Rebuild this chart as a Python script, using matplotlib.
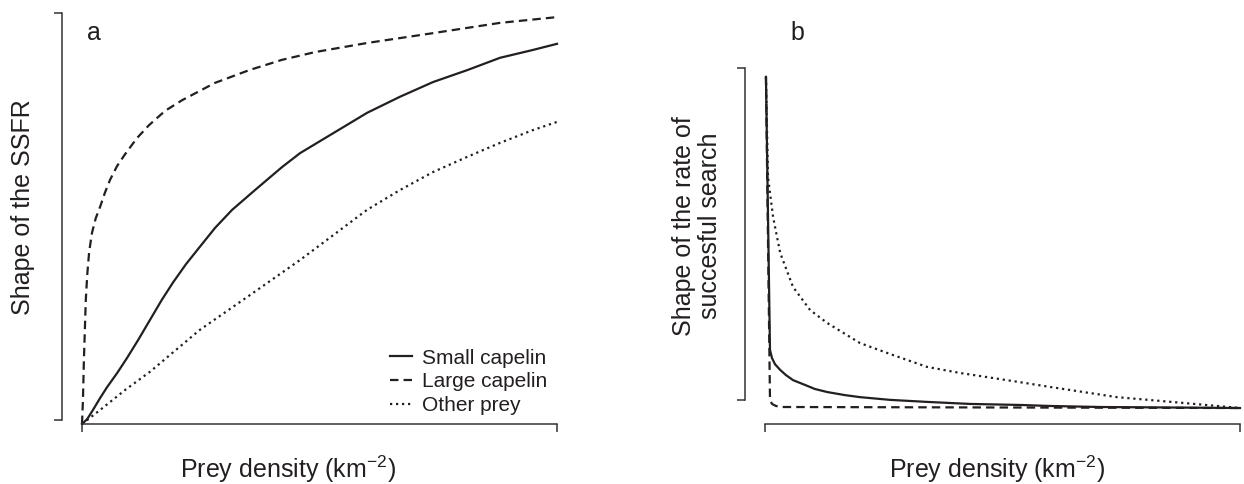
import matplotlib
matplotlib.use("Agg")
import matplotlib.pyplot as plt

plt.rcParams['font.family'] = ['Liberation Sans', 'DejaVu Sans']
plt.rcParams['mathtext.fontset'] = 'custom'
plt.rcParams['mathtext.rm'] = 'Liberation Sans'
plt.rcParams['mathtext.default'] = 'rm'

INK = '#231f20'

# Panel a: shape of the SSFR (relative units)
large_a_x = [0, 0.002, 0.004, 0.006, 0.008, 0.011, 0.015, 0.021, 0.029, 0.038, 0.048,
             0.059, 0.074, 0.091, 0.116, 0.141, 0.175, 0.211, 0.280, 0.352, 0.421,
             0.491, 0.600, 0.739, 0.880, 1.0]
large_a_y = [0, 0.058, 0.156, 0.229, 0.302, 0.363, 0.418, 0.465, 0.501, 0.528, 0.562,
             0.594, 0.628, 0.657, 0.696, 0.727, 0.762, 0.788, 0.830, 0.861, 0.886,
             0.905, 0.927, 0.951, 0.976, 0.990]
small_a_x = [0, 0.011, 0.023, 0.038, 0.053, 0.074, 0.095, 0.118, 0.143, 0.168, 0.192,
             0.219, 0.248, 0.280, 0.316, 0.364, 0.421, 0.459, 0.505, 0.554, 0.600,
             0.669, 0.739, 0.811, 0.880, 0.949, 1.0]
small_a_y = [0, 0.012, 0.034, 0.063, 0.090, 0.124, 0.161, 0.204, 0.253, 0.302, 0.345,
             0.389, 0.431, 0.477, 0.521, 0.569, 0.625, 0.659, 0.691, 0.725, 0.757,
             0.796, 0.832, 0.861, 0.891, 0.910, 0.925]
other_a_x = [0, 0.038, 0.091, 0.143, 0.248, 0.354, 0.459, 0.600, 0.669, 0.739, 0.811,
             0.880, 0.949, 1.0]
other_a_y = [0, 0.034, 0.083, 0.127, 0.229, 0.314, 0.399, 0.521, 0.569, 0.613, 0.650,
             0.684, 0.715, 0.735]

# Panel b: shape of the rate of successful search
small_b_x = [0.002, 0.0105, 0.0147, 0.021, 0.032, 0.044, 0.059, 0.084, 0.105, 0.131,
             0.168, 0.200, 0.263, 0.341, 0.432, 0.537, 0.600, 0.705, 1.0]
small_b_y = [0.974, 0.171, 0.147, 0.129, 0.112, 0.097, 0.082, 0.068, 0.056, 0.047,
             0.038, 0.032, 0.024, 0.018, 0.012, 0.009, 0.006, 0.003, 0.0]
large_b_x = [0.002, 0.0105, 0.0147, 0.023, 0.036, 1.0]
large_b_y = [0.974, 0.024, 0.012, 0.006, 0.003, 0.0]
other_b_x = [0.002, 0.0063, 0.017, 0.032, 0.059, 0.095, 0.131, 0.200, 0.269, 0.341,
             0.411, 0.537, 0.600, 0.741, 0.880, 1.0]
other_b_y = [0.974, 0.679, 0.562, 0.456, 0.356, 0.288, 0.250, 0.191, 0.156, 0.121,
             0.103, 0.076, 0.062, 0.032, 0.015, 0.0]

labels = ['Small capelin', 'Large capelin', 'Other prey']
styles = ['-', (0, (3.8, 2.3)), (0, (1.0, 1.7))]

W, H = 1244, 484
fig = plt.figure(figsize=(W / 100, H / 100), dpi=100)


def fx(px):
    return px / W


def fy(py):
    return 1 - py / H


ax_a = fig.add_axes([fx(82), fy(424), (557 - 82) / W, (424 - 13) / H])
ax_b = fig.add_axes([fx(765), fy(424), (1240 - 765) / W, (424 - 68) / H])


def style_axes(ax, ylo, yhi, ybounds):
    ax.set_xlim(0, 1)
    ax.set_ylim(ylo, yhi)
    for s in ['top', 'right']:
        ax.spines[s].set_visible(False)
    ax.spines['left'].set_position(('outward', 14.4))
    ax.spines['left'].set_bounds(*ybounds)
    ax.spines['bottom'].set_bounds(0, 1)
    for s in ['left', 'bottom']:
        ax.spines[s].set_linewidth(1.1)
        ax.spines[s].set_color('#333333')
    ax.set_xticks([0, 1])
    ax.set_yticks(list(ybounds))
    ax.set_xticklabels([])
    ax.set_yticklabels([])
    ax.tick_params(direction='out', length=6, width=1.1, color='#333333')


style_axes(ax_a, 0, 1, (0.01, 1.0))
style_axes(ax_b, -0.047, 1.0, (0.0235, 1.0))

lw = 1.6
la = []
for (x, y), ls, lab in zip([(small_a_x, small_a_y), (large_a_x, large_a_y),
                            (other_a_x, other_a_y)], styles, labels):
    ln, = ax_a.plot(x, y, color=INK, lw=lw, linestyle=ls, label=lab, clip_on=False)
    la.append(ln)

for (x, y), ls in zip([(other_b_x, other_b_y), (large_b_x, large_b_y),
                       (small_b_x, small_b_y)], [styles[2], styles[1], styles[0]]):
    ax_b.plot(x, y, color=INK, lw=lw, linestyle=ls, clip_on=False)

ax_a.legend(handles=la, loc='upper left', bbox_to_anchor=(0.648, 0.183),
            frameon=False, fontsize=15, handlelength=1.05, handletextpad=0.5,
            labelspacing=0.22, borderpad=0, borderaxespad=0, labelcolor=INK)

fig.text(fx(87), fy(40), 'a', fontsize=18, va='baseline', color=INK)
fig.text(fx(790), fy(40), 'b', fontsize=18, va='baseline', color=INK)

fig.text(fx(23), fy(207), 'Shape of the SSFR', rotation=90, ha='center',
         va='center', fontsize=18, color=INK)
fig.text(fx(697), fy(226), 'Shape of the rate of\nsuccesful search', rotation=90,
         ha='center', va='center', fontsize=18, linespacing=1.15,
         multialignment='center', color=INK)

fig.text(fx(288), fy(478), 'Prey density (km$^{-2}$)', ha='center', va='baseline',
         fontsize=18, color=INK)
fig.text(fx(997), fy(478), 'Prey density (km$^{-2}$)', ha='center', va='baseline',
         fontsize=18, color=INK)

fig.savefig('out.png', dpi=100)
